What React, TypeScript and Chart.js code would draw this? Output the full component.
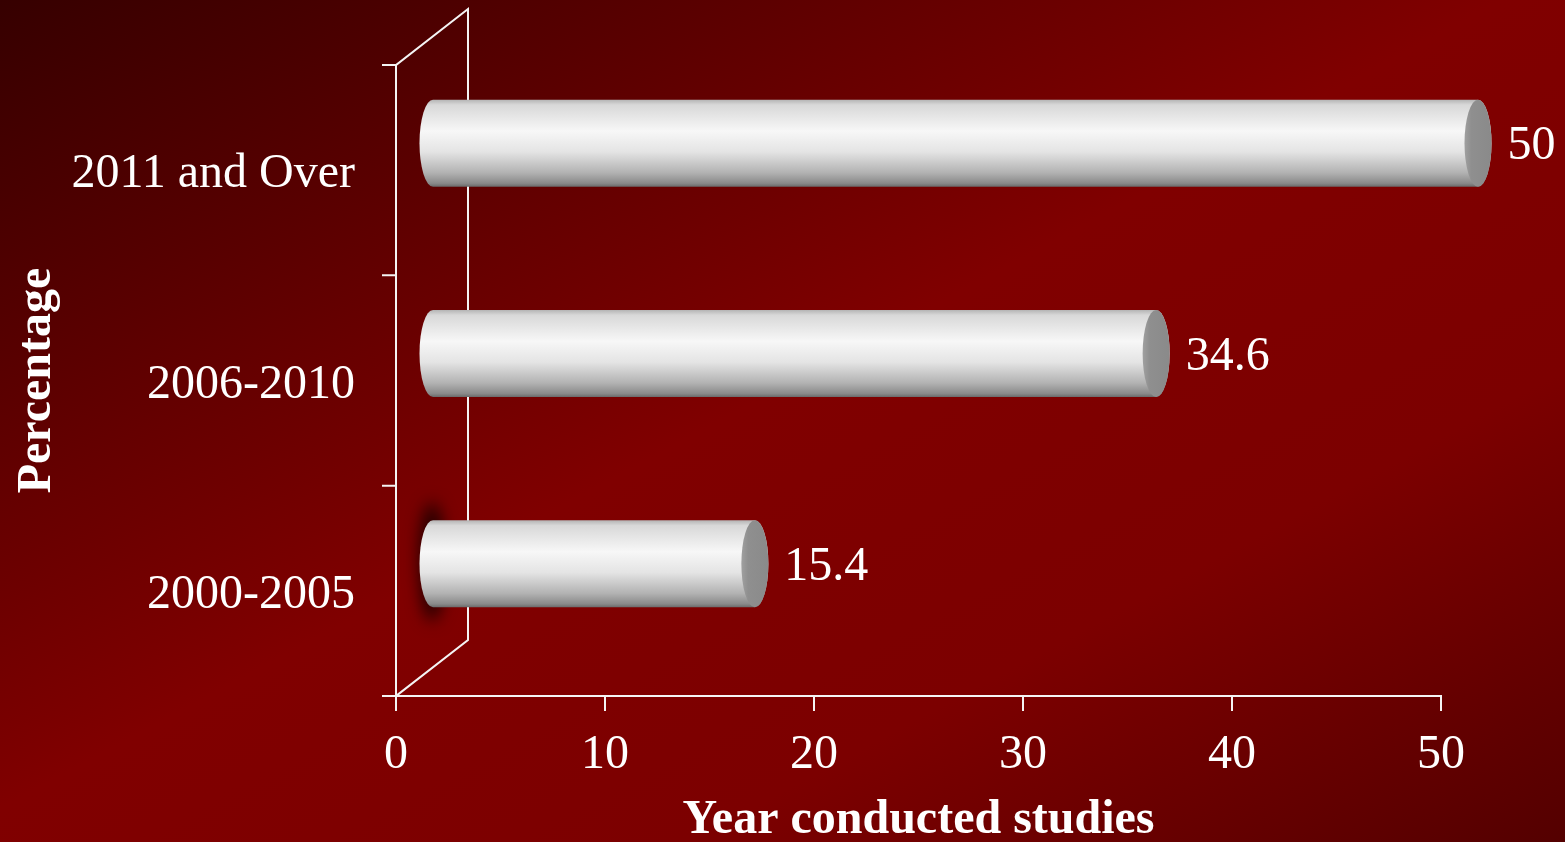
import { useEffect, useRef } from "react";
import { Chart, registerables } from "chart.js";

Chart.register(...registerables);

// Chart content
const categories = ["2011 and Over", "2006-2010", "2000-2005"];
const shares = [50, 34.6, 15.4];
const xTicks = [0, 10, 20, 30, 40, 50];
const xTitle = "Year conducted studies";
const yTitle = "Percentage";

// Canvas and 3D look
const W = 1565;
const H = 842;
const WALL_DX = 72; // back wall offset relative to the front axis
const WALL_DY = -56;
const BAR_DX = 37; // cylinders sit half way into the depth
const BAR_DY = -27;
const CAP_RX = 13.5;
const SERIF = '"Liberation Serif", "Times New Roman", serif';
const LINE = "#f4f4f4";

const threeDPlugin = {
  id: "threeDCylinders",
  beforeDraw(chart: any) {
    const ctx: CanvasRenderingContext2D = chart.ctx;
    // diagonal backdrop: dark upper-left, deep red band, darker lower-right
    const L = Math.hypot(W, H);
    const k = (W * H) / L;
    const nx = H / L;
    const ny = W / L;
    const cx = W / 2;
    const cy = H / 2;
    const g = ctx.createLinearGradient(cx - k * nx, cy - k * ny, cx + k * nx, cy + k * ny);
    g.addColorStop(0, "#360000");
    g.addColorStop(0.3, "#650000");
    g.addColorStop(0.48, "#800000");
    g.addColorStop(0.72, "#7c0000");
    g.addColorStop(1, "#540000");
    ctx.save();
    ctx.fillStyle = g;
    ctx.fillRect(0, 0, W, H);
    ctx.restore();
  },
  beforeDatasetsDraw(chart: any) {
    const ctx: CanvasRenderingContext2D = chart.ctx;
    const xs = chart.scales.x;
    const { top, bottom } = chart.chartArea;
    const left = xs.getPixelForValue(0);
    const right = xs.getPixelForValue(xTicks[xTicks.length - 1]);
    ctx.save();
    ctx.strokeStyle = LINE;
    ctx.lineWidth = 2;
    ctx.lineCap = "square";
    ctx.beginPath();
    // front value axis
    ctx.moveTo(left, top);
    ctx.lineTo(left, bottom);
    ctx.moveTo(left, bottom);
    ctx.lineTo(right, bottom);
    // category boundaries
    const n = categories.length;
    for (let i = 0; i <= n; i++) {
      const yy = top + ((bottom - top) * i) / n;
      ctx.moveTo(left - 13, yy);
      ctx.lineTo(left, yy);
    }
    // value ticks
    xTicks.forEach((t) => {
      const px = xs.getPixelForValue(t);
      ctx.moveTo(px, bottom);
      ctx.lineTo(px, bottom + 14);
    });
    // side wall in depth
    ctx.moveTo(left, top);
    ctx.lineTo(left + WALL_DX, top + WALL_DY);
    ctx.lineTo(left + WALL_DX, bottom + WALL_DY);
    ctx.lineTo(left, bottom);
    ctx.stroke();
    ctx.restore();
  },
  afterDatasetsDraw(chart: any) {
    const ctx: CanvasRenderingContext2D = chart.ctx;
    const meta = chart.getDatasetMeta(0);
    meta.data.forEach((el: any, i: number) => {
      const { x, y, base, height } = el.getProps(["x", "y", "base", "height"], true);
      const x0 = base + BAR_DX;
      const x1 = x + BAR_DX;
      const cy = y + BAR_DY;
      const r = height / 2;

      ctx.save();
      if (i === meta.data.length - 1) {
        // soft shadow at the root of the lowest cylinder
        ctx.filter = "blur(8px)";
        ctx.fillStyle = "rgba(30,0,0,0.95)";
        ctx.beginPath();
        ctx.ellipse(x0 - 1, cy - 2, 13, r + 16, 0, 0, Math.PI * 2);
        ctx.fill();
        ctx.filter = "none";
      }

      const g = ctx.createLinearGradient(0, cy - r, 0, cy + r);
      g.addColorStop(0, "#b4b4b4");
      g.addColorStop(0.06, "#d8d8d8");
      g.addColorStop(0.36, "#f7f7f7");
      g.addColorStop(0.6, "#e4e4e4");
      g.addColorStop(0.84, "#b2b2b2");
      g.addColorStop(0.96, "#8a8a8a");
      g.addColorStop(1, "#6a6a6a");
      ctx.fillStyle = g;
      ctx.beginPath();
      ctx.moveTo(x0, cy - r);
      ctx.lineTo(x1, cy - r);
      ctx.ellipse(x1, cy, CAP_RX, r, 0, -Math.PI / 2, Math.PI / 2, false);
      ctx.lineTo(x0, cy + r);
      ctx.ellipse(x0, cy, CAP_RX, r, 0, Math.PI / 2, (3 * Math.PI) / 2, false);
      ctx.closePath();
      ctx.fill();

      // end cap
      const cg = ctx.createLinearGradient(x1 - CAP_RX, 0, x1 + CAP_RX, 0);
      cg.addColorStop(0, "#a0a0a0");
      cg.addColorStop(0.25, "#8f8f8f");
      cg.addColorStop(1, "#8a8a8a");
      ctx.fillStyle = cg;
      ctx.beginPath();
      ctx.ellipse(x1, cy, CAP_RX, r, 0, 0, Math.PI * 2);
      ctx.fill();

      // value label
      ctx.fillStyle = "#ffffff";
      ctx.font = `48px ${SERIF}`;
      ctx.textAlign = "left";
      ctx.textBaseline = "alphabetic";
      ctx.fillText(String(shares[i]), x1 + CAP_RX + 16, cy + 16);
      ctx.restore();
    });
  },
  afterDraw(chart: any) {
    const ctx: CanvasRenderingContext2D = chart.ctx;
    const xs = chart.scales.x;
    const ys = chart.scales.y;
    const { top, bottom } = chart.chartArea;
    const left = xs.getPixelForValue(0);
    const right = xs.getPixelForValue(xTicks[xTicks.length - 1]);
    ctx.save();
    ctx.fillStyle = "#ffffff";
    ctx.textBaseline = "alphabetic";

    // category labels
    ctx.font = `48px ${SERIF}`;
    ctx.textAlign = "right";
    categories.forEach((c, i) => {
      ctx.fillText(c, left - 41, ys.getPixelForValue(i) + 17);
    });

    // value tick labels
    ctx.textAlign = "center";
    xTicks.forEach((t) => {
      ctx.fillText(String(t), xs.getPixelForValue(t), bottom + 72);
    });

    // axis titles
    ctx.font = `bold 48px ${SERIF}`;
    ctx.fillText(xTitle, (left + right) / 2, bottom + 137);
    ctx.translate(50, (top + bottom) / 2);
    ctx.rotate(-Math.PI / 2);
    ctx.fillText(yTitle, 0, 0);
    ctx.restore();
  },
};

export default function App() {
  const canvasRef = useRef<HTMLCanvasElement | null>(null);

  useEffect(() => {
    document.body.style.margin = "0";
    const canvas = canvasRef.current;
    if (!canvas) return;
    const chart = new Chart(canvas, {
      type: "bar",
      data: {
        labels: categories,
        datasets: [
          {
            data: shares,
            backgroundColor: "rgba(0,0,0,0)",
            borderWidth: 0,
            barPercentage: 1,
            categoryPercentage: 0.414,
          },
        ],
      },
      options: {
        indexAxis: "y",
        responsive: false,
        animation: false,
        devicePixelRatio: 1,
        layout: { padding: { left: 396, right: 124, top: 65, bottom: 146 } },
        scales: {
          x: { type: "linear", min: 0, max: 50, display: false },
          y: { type: "category", display: false },
        },
        plugins: {
          legend: { display: false },
          tooltip: { enabled: false },
        },
      },
      plugins: [threeDPlugin],
    });
    return () => chart.destroy();
  }, []);

  return (
    <canvas
      ref={canvasRef}
      width={W}
      height={H}
      style={{ display: "block", width: W, height: H }}
    />
  );
}
